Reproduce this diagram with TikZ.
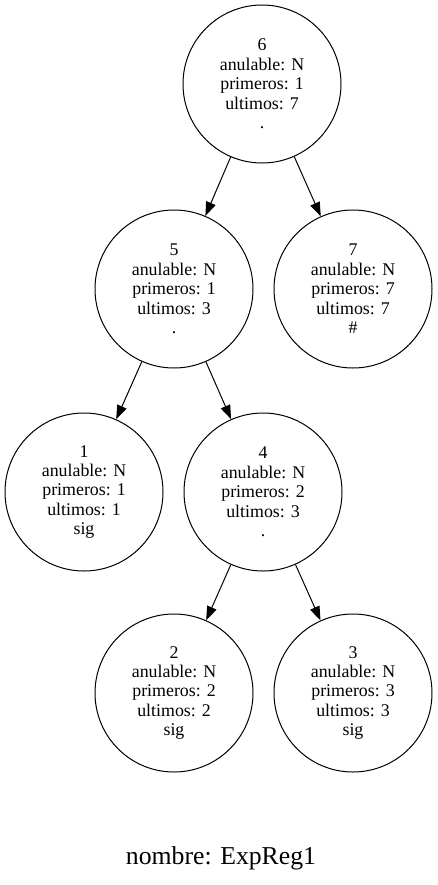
\documentclass[tikz,border=0pt]{standalone}
\usepackage{fontspec}
\setmainfont{Liberation Serif}
\usetikzlibrary{arrows.meta}
\begin{document}
\begin{tikzpicture}[x=0.75pt,y=-0.75pt,
  nodo/.style={draw,line width=0.75pt,circle,minimum size=118.5pt,inner sep=0pt,
    align=center,font=\fontsize{13.4pt}{14.6pt}\selectfont},
  flecha/.style={line width=0.75pt,-{Triangle[length=10.5pt,width=7.5pt]}}]
\useasboundingbox (0,0) rectangle (437,885);
\node[nodo] (n6) at (262,84) {6\\anulable: N\\primeros: 1\\ultimos: 7\\.};
\node[nodo] (n5) at (174,289) {5\\anulable: N\\primeros: 1\\ultimos: 3\\.};
\node[nodo] (n7) at (353,289) {7\\anulable: N\\primeros: 7\\ultimos: 7\\\#};
\node[nodo] (n1) at (84,492) {1\\anulable: N\\primeros: 1\\ultimos: 1\\sig};
\node[nodo] (n4) at (263,492) {4\\anulable: N\\primeros: 2\\ultimos: 3\\.};
\node[nodo] (n2) at (174,693) {2\\anulable: N\\primeros: 2\\ultimos: 2\\sig};
\node[nodo] (n3) at (353,693) {3\\anulable: N\\primeros: 3\\ultimos: 3\\sig};
\draw[flecha] (n6) -- (n5);
\draw[flecha] (n6) -- (n7);
\draw[flecha] (n5) -- (n1);
\draw[flecha] (n5) -- (n4);
\draw[flecha] (n4) -- (n2);
\draw[flecha] (n4) -- (n3);
\node[font=\fontsize{19.3pt}{22pt}\selectfont] (titulo) at (221,858) {nombre: ExpReg1};
\end{tikzpicture}
\end{document}
